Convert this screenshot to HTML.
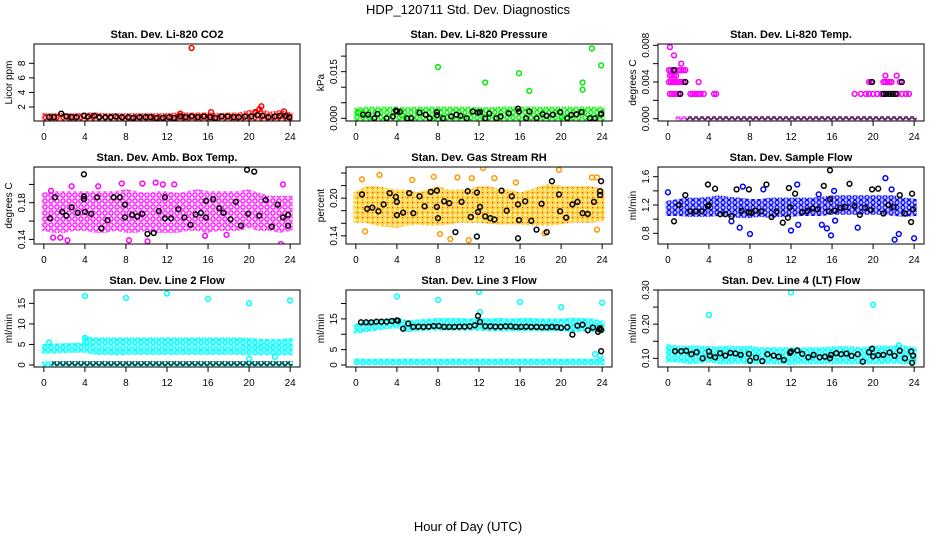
<!DOCTYPE html>
<html><head><meta charset="utf-8"><style>
html,body{margin:0;padding:0;background:#fff;}
svg{display:block;font-family:"Liberation Sans",Arial,sans-serif;}
</style></head><body>
<svg id="chart" width="936" height="540" viewBox="0 0 936 540" xmlns="http://www.w3.org/2000/svg">
<defs>
<pattern id="pat-red" width="6" height="5" patternUnits="userSpaceOnUse"><circle cx="3" cy="2.5" r="2" fill="none" stroke="#ff0000" stroke-width="1.2"/></pattern>
<pattern id="pat-green" width="6" height="5" patternUnits="userSpaceOnUse"><circle cx="3" cy="2.5" r="2" fill="none" stroke="#00ee00" stroke-width="1.2"/></pattern>
<pattern id="pat-magenta" width="6" height="6" patternUnits="userSpaceOnUse"><circle cx="3" cy="3" r="2.1" fill="none" stroke="#ff00ff" stroke-width="1.2"/></pattern>
<pattern id="pat-blue" width="6" height="5" patternUnits="userSpaceOnUse"><circle cx="3" cy="2.5" r="2" fill="none" stroke="#0000ff" stroke-width="1.2"/></pattern>
<pattern id="pat-cyan" width="6" height="5" patternUnits="userSpaceOnUse"><circle cx="3" cy="2.5" r="2" fill="none" stroke="#00ffff" stroke-width="1.3"/></pattern>
<pattern id="pat-black" width="6" height="6" patternUnits="userSpaceOnUse"><circle cx="3" cy="3" r="2.2" fill="none" stroke="#000" stroke-width="1.2"/></pattern>
<pattern id="pat-orange" width="5" height="5" patternUnits="userSpaceOnUse"><circle cx="2.5" cy="2.5" r="1.8" fill="none" stroke="#ffcc00" stroke-width="1.2"/><rect x="2" y="2" width="1.2" height="1.2" fill="#ff2000"/></pattern>
</defs>
<text x="468" y="14" text-anchor="middle" font-size="13">HDP_120711  Std. Dev. Diagnostics</text>
<text x="468" y="531" text-anchor="middle" font-size="13">Hour of Day (UTC)</text>
</svg>
<script>
// ---------- data ----------
const xTicks=[0,4,8,12,16,20,24];
const NA=NaN;
// CO2
const co2Lo=[0.3,0.3,0.3,0.3,0.3,0.3,0.3,0.3,0.3,0.3,0.3,0.3,0.3,0.3,0.3,0.3,0.3,0.3,0.3,0.3,0.3,0.3,0.3,0.3,0.3];
const co2Hi=[0.8,0.8,0.8,0.8,0.9,0.9,0.8,0.8,0.8,0.8,0.8,0.8,0.8,0.9,0.9,0.9,0.9,0.8,0.9,0.9,1.2,1.5,1.0,1.2,0.9];
const co2RedX=[14.4,21.2,21.0,16.3,23.4,13.3,20.6];
const co2RedY=[10.1,2.1,1.7,1.3,1.4,1.1,1.3];
const co2BlkX=[0.5,1,1.7,2.2,2.7,3.2,3.9,4.3,4.9,5.4,6,6.5,7,7.6,8.2,8.7,9.3,9.9,10.4,11,11.6,12.2,12.7,13.3,13.8,14.4,15,15.6,16.2,16.7,17.3,17.9,18.5,19,19.6,20.2,20.8,21.3,21.9,22.5,23,23.6,23.9];
const co2BlkY=[0.6,0.6,1.1,0.7,0.6,0.6,0.8,0.7,0.8,0.6,0.6,0.6,0.7,0.6,0.6,0.5,0.6,0.6,0.6,0.5,0.5,0.6,0.5,0.7,0.6,0.7,0.6,0.7,0.6,0.5,0.7,0.7,0.6,0.6,0.7,0.7,0.9,0.8,0.6,0.7,0.8,0.8,0.6];
const co2Ticks=[2,4,6,8];
// Pressure
const presLo=[0,0,0,0,0,0,0,0,0,0,0,0,0,0,0,0,0,0,0,0,0,0,0,0,0];
const presHi=[0.0025,0.003,0.003,0.003,0.003,0.0028,0.003,0.003,0.003,0.003,0.003,0.003,0.0028,0.0028,0.003,0.003,0.003,0.003,0.003,0.003,0.003,0.003,0.003,0.003,0.003];
const presGrnX=[8,12.6,15.9,16.9,22.1,22.1,23,23.9,0.3,4.5,20.1];
const presGrnY=[0.0165,0.0115,0.0145,0.0088,0.0115,0.0092,0.0225,0.0170,0.0018,0.001,0.0005];
const presBlkX=[0.7,1.2,2.1,3.6,3.9,4,4.3,5.4,6.2,6.8,7.9,7.9,9.3,9.8,10.2,11.4,11.9,12.1,13,14.1,14.9,15.8,15.9,16.9,18.2,18.6,19.2,19.9,21,21.5,22,23.9,23.9,1.8,3,5,7.2,8.5,10.8,12.6,13.7,16.6,17.6,20.6,22.8,23.3];
const presBlkY=[0.0012,0.0012,0.0014,0.0006,0.0025,0.0022,0.0021,0,0.0018,0.0012,0.002,0.001,0.0006,0.0012,0.0008,0.0022,0.0018,0.002,0.0015,0.0006,0.0016,0.0031,0.0022,0.0022,0.0013,0.0008,0.0012,0.002,0.0011,0.0013,0.002,0.0013,0.0015,0,0,0,0,0,0,0,0,0,0,0,0,0];
const presTicks=[0,0.005,0.010,0.015,0.020];
const presLabels=["0.000","","","0.015",""];
// Li-820 Temp
const tempLevels=[0.0027,0.004,0.0047,0.0053,0.006,0.0069,0.0078];
const tempLevelHours=[
 [0.2,0.4,0.6,0.8,1.0,1.2,2.2,2.4,2.6,2.8,3.0,3.2,3.5,4.5,4.7,18.2,18.8,19.3,19.6,20,20.4,20.8,21.2,21.6,22,22.4,22.8,23.2,23.5],
 [0.1,0.3,0.5,0.7,0.9,1.1,1.3,1.5,1.7,3.0,19.6,19.8,21,21.2,21.4,21.6,21.8,22.6],
 [0.2,0.4,0.6,0.8,21.2,22.3],
 [0.1,0.3,0.5,0.7,1.1,1.3,1.5,1.7],
 [1.3],[0.6],[0.2]];
const tempZeroLo=[NA,0,0,0,0,0,0,0,0,0,0,0,0,0,0,0,0,0,0,0,0,0,0,0,0];
const tempZeroHi=[NA,0,0,0,0,0,0,0,0,0,0,0,0,0,0,0,0,0,0,0,0,0,0,0,0];
const tempBlkZeroLo=[NA,NA,0,0,0,0,0,0,0,0,0,0,0,0,0,0,0,0,0,0,0,0,0,0,0];
const tempBlkZeroHi=[NA,NA,0,0,0,0,0,0,0,0,0,0,0,0,0,0,0,0,0,0,0,0,0,0,0];
const tempBlkX=[0.6,1.7,1.2,19.9,22.8,21,21.3,21.6,21.9,22.2];
const tempBlkY=[0.0053,0.004,0.0027,0.004,0.004,0.0027,0.0027,0.0027,0.0027,0.0027];
const tempTicks=[0,0.002,0.004,0.006,0.008];
const tempLabels=["0.000","","0.004","","0.008"];
// Amb box temp
const ambLo=[0.152,0.15,0.15,0.152,0.152,0.15,0.15,0.152,0.15,0.15,0.152,0.15,0.15,0.15,0.152,0.152,0.15,0.152,0.152,0.152,0.155,0.152,0.152,0.15,0.152];
const ambHi=[0.188,0.19,0.19,0.19,0.19,0.19,0.19,0.19,0.192,0.19,0.188,0.19,0.19,0.188,0.19,0.192,0.19,0.19,0.19,0.19,0.192,0.188,0.185,0.185,0.185];
const ambMagX=[0.7,2.7,5.3,7.6,9.6,10.9,11.6,12.7,23.3,0.9,1.6,2.3,8.3,10.1,23.1,15.7,17.8];
const ambMagY=[0.193,0.198,0.198,0.201,0.201,0.202,0.2,0.2,0.2,0.142,0.142,0.139,0.139,0.138,0.135,0.144,0.145];
const ambBlkX=[3.9,19.8,20.5,1.1,5.2,6.8,7.4,11.8,15.8,18.7,0.6,1.8,2.2,2.7,3.3,4,4.6,5.6,6.2,7.9,7.9,8.6,9.1,9.6,10.1,10.7,11.2,11.8,12.4,13.1,13.7,14.3,14.8,15.3,15.8,16.5,17.1,17.5,18.2,19.2,19.9,21,21.6,22.2,22.8,23.3,23.8,23.8,3.9,3.9];
const ambBlkY=[0.211,0.216,0.214,0.186,0.186,0.186,0.186,0.186,0.182,0.181,0.163,0.17,0.166,0.175,0.169,0.17,0.168,0.152,0.161,0.178,0.164,0.167,0.165,0.168,0.146,0.147,0.171,0.163,0.163,0.173,0.164,0.156,0.167,0.169,0.164,0.184,0.174,0.169,0.162,0.155,0.168,0.166,0.183,0.154,0.178,0.164,0.167,0.155,0.184,0.187];
const ambTicks=[0.14,0.16,0.18,0.20];
const ambLabels=["0.14","","0.18",""];
// RH
const rhLo=[0.165,0.165,0.16,0.158,0.157,0.16,0.162,0.16,0.16,0.162,0.165,0.165,0.165,0.163,0.162,0.162,0.162,0.16,0.16,0.16,0.162,0.165,0.165,0.165,0.168];
const rhHi=[0.205,0.215,0.215,0.212,0.21,0.21,0.205,0.21,0.215,0.21,0.21,0.21,0.215,0.215,0.21,0.21,0.205,0.21,0.215,0.22,0.215,0.215,0.215,0.215,0.21];
const rhOrX=[0.6,2.3,5.5,7.6,9.9,11.3,12.4,13.5,15.6,19.8,23,23.5,0.9,8.2,9.2,11,18.4,23.5];
const rhOrY=[0.23,0.237,0.229,0.234,0.233,0.232,0.248,0.232,0.225,0.245,0.233,0.233,0.147,0.143,0.135,0.133,0.144,0.15];
const rhBlkX=[0.6,1.1,1.6,2.2,2.7,3.3,3.9,4,4,4.6,5.2,5.6,6.2,6.7,7.3,7.9,7.9,8,8.6,9.1,9.7,10.3,10.9,11.2,11.8,11.9,12.1,12.6,13.1,13.5,14.2,14.7,15.2,15.8,15.9,16.5,17.1,17.6,18.1,18.6,19.1,19.8,19.9,20.5,21.1,21.6,22.1,22.6,23.2,23.8,23.8,23.9,15.8,11.8];
const rhBlkY=[0.206,0.183,0.185,0.179,0.19,0.208,0.202,0.194,0.173,0.177,0.208,0.176,0.203,0.187,0.21,0.212,0.186,0.168,0.195,0.192,0.146,0.194,0.211,0.17,0.209,0.178,0.186,0.171,0.168,0.166,0.212,0.18,0.203,0.19,0.165,0.195,0.164,0.15,0.191,0.146,0.227,0.206,0.179,0.169,0.19,0.194,0.176,0.175,0.194,0.205,0.211,0.227,0.136,0.139];
const rhTicks=[0.14,0.16,0.18,0.20,0.22,0.24];
const rhLabels=["0.14","","","0.20","",""];
// Sample flow
const sfLo=[1.08,1.08,1.07,1.07,1.07,1.08,1.07,1.05,1.05,1.07,1.05,1.07,1.07,1.08,1.08,1.08,1.1,1.1,1.1,1.1,1.1,1.1,1.08,1.07,1.08];
const sfHi=[1.22,1.25,1.27,1.27,1.28,1.3,1.28,1.27,1.25,1.25,1.27,1.27,1.27,1.27,1.27,1.28,1.3,1.3,1.3,1.3,1.3,1.3,1.3,1.27,1.25];
const sfBluX=[0,7.3,9.3,12.6,14.7,16.2,21.2,21.8,7,8,12,12.7,15,15.5,15.9,18.5,22.1,22.5,24,6.2,16.3];
const sfBluY=[1.38,1.46,1.42,1.49,1.35,1.4,1.58,1.42,0.88,0.79,0.84,0.92,0.92,0.87,0.77,0.88,0.71,0.79,0.73,0.97,0.98];
const sfBlkX=[0.6,1.1,1.7,2.2,2.7,3.3,3.9,3.9,4,4.6,5.1,5.6,6.2,6.7,7.2,7.9,7.9,8.1,8.5,9.1,9.6,10.1,10.6,11.2,11.7,11.8,11.9,12.4,13.1,13.6,14.1,14.6,15.2,15.7,15.8,16.3,16.8,17.3,17.7,18.2,18.7,19.2,19.8,19.9,20.5,21,21.5,22,22.6,23.1,23.7,23.8,23.9,15.8];
const sfBlkY=[0.97,1.2,1.34,1.11,1.11,1.11,1.18,1.49,1.2,1.43,1.07,1.07,1.04,1.42,1.12,1.1,1.42,1.09,1.12,1.11,1.49,1.03,1.11,0.95,1.02,1.44,1.17,1.36,1.1,1.12,1.15,1.14,1.47,1.11,1.28,1.12,1.16,1.17,1.5,1.19,1.06,1.16,1.13,1.42,1.43,1.08,1.2,1.17,1.34,1.08,0.96,1.36,1.14,1.69];
const sfTicks=[0.8,1.0,1.2,1.4,1.6];
const sfLabels=["0.8","","1.2","","1.6"];
// Line 2
const l2ALo=[3.3,3.4,3.5,3.6,3.6,3.1,3.1,3.0,3.1,3.1,3.1,3.1,3.1,3.1,3.1,3.1,3.1,3.1,3.1,3.1,3.0,3.0,3.0,3.0,3.0];
const l2AHi=[4.5,4.6,4.7,4.8,4.9,4.0,4.0,4.0,4.0,4.0,4.0,4.0,4.1,4.0,4.0,4.0,4.0,4.0,4.0,4.0,4.0,4.0,4.0,3.9,3.8];
const l2BLo=[NA,NA,NA,NA,5.2,5.3,5.3,5.3,5.3,5.3,5.3,5.3,5.3,5.3,5.3,5.3,5.3,5.3,5.3,5.3,5.0,4.9,4.9,4.9,4.9];
const l2BHi=[NA,NA,NA,NA,6.4,6.1,6.1,6.1,6.1,6.1,6.1,6.1,6.1,6.1,6.1,6.1,6.1,6.1,6.1,6.1,6.0,5.8,5.7,5.7,6.0];
const l2RowLo=[0.3,0.3,0.3,0.3,0.3,0.3,0.3,0.3,0.3,0.3,0.3,0.3,0.3,0.3,0.3,0.3,0.3,0.3,0.3,0.3,0.3,0.3,0.3,0.3,0.3];
const l2RowHi=[0.3,0.3,0.3,0.3,0.3,0.3,0.3,0.3,0.3,0.3,0.3,0.3,0.3,0.3,0.3,0.3,0.3,0.3,0.3,0.3,0.3,0.3,0.3,0.3,0.3];
const l2BlkLo=[NA,0.3,0.3,0.3,0.3,0.3,0.3,0.3,0.3,0.3,0.3,0.3,0.3,0.3,0.3,0.3,0.3,0.3,0.3,0.3,0.3,0.3,0.3,0.3,0.3];
const l2BlkHi=[NA,0.3,0.3,0.3,0.3,0.3,0.3,0.3,0.3,0.3,0.3,0.3,0.3,0.3,0.3,0.3,0.3,0.3,0.3,0.3,0.3,0.3,0.3,0.3,0.3];
const l2CyX=[4,8,12,16,20,24,0.5,20,22.5,4];
const l2CyY=[16.8,16.3,17.4,16.1,15,15.7,5.5,1.5,2,6.6];
const l2Ticks=[0,5,10,15];
const l2Labels=["0","5","10","15"];
// Line 3
const l3Lo=[11,11.5,12,12.5,12.8,11.5,11.8,12,12,12,12,12,12,11.8,11.8,11.8,11.8,11.8,11.8,11.8,11.8,11.5,11.8,11.5,11.5];
const l3Hi=[12.5,13.5,14,14.3,14.5,13.8,14,14.2,14.5,14.5,14.5,14.3,14.5,14.3,14.5,14.3,14.5,14.5,14.3,14.3,14.3,14.5,14.5,14.3,13.5];
const l3RowLo=[0.8,0.8,0.8,0.8,0.8,0.8,0.8,0.8,0.8,0.8,0.8,0.8,0.8,0.8,0.8,0.8,0.8,0.8,0.8,0.8,0.8,0.8,0.8,0.8,0.8];
const l3RowHi=[1.2,1.2,1.2,1.2,1.2,1.2,1.2,1.2,1.2,1.2,1.2,1.2,1.2,1.2,1.2,1.2,1.2,1.2,1.2,1.2,1.2,1.2,1.2,1.2,1.2];
const l3CyX=[4,8,12,16,20,24,12.1,23.3,23.8];
const l3CyY=[22.3,21.2,23.8,20.5,18.8,20.3,17.2,3.5,3];
const l3BlkX=[0.5,1,1.5,2,2.5,3,3.5,4,4.1,4.6,5.1,5.6,6.1,6.6,7.1,7.6,8.1,8.6,9.1,9.6,10.1,10.6,11.1,11.6,11.9,12.1,12.6,13.1,13.6,14.1,14.6,15.1,15.6,16.1,16.6,17.1,17.6,18.1,18.6,19.1,19.6,20,20.6,21.1,21.6,22.1,22.6,23.1,23.6,23.7,23.8,23.9,23.9];
const l3BlkY=[13.9,13.9,13.9,14.1,14.1,14.1,14.3,14.5,14.4,11.8,13.5,12.4,12.5,12.4,12.5,12.7,12.7,12.4,12.4,12.4,12.5,12.5,12.6,12.9,16,14,12.6,12.6,12.5,12.5,12.6,12.6,12.4,12.4,12.5,12.4,12.4,12.3,12.3,12.4,12.3,12.1,12.3,9.9,12.8,13.1,11.3,12.2,10.8,11.6,12,11.4,4.5];
const l3Ticks=[0,5,10,15,20];
const l3Labels=["0","5","","15",""];
// Line 4
const l4Lo=[0.095,0.095,0.09,0.092,0.095,0.09,0.09,0.092,0.09,0.09,0.09,0.09,0.088,0.09,0.09,0.09,0.09,0.09,0.09,0.09,0.09,0.09,0.092,0.09,0.092];
const l4Hi=[0.135,0.13,0.13,0.13,0.128,0.128,0.13,0.128,0.13,0.125,0.125,0.125,0.125,0.125,0.125,0.125,0.128,0.128,0.128,0.125,0.13,0.13,0.13,0.13,0.125];
const l4CyX=[4,12,20,22.5];
const l4CyY=[0.227,0.293,0.257,0.138];
const l4BlkX=[0.7,1.3,1.8,2.3,2.8,3.4,4,4.1,4.6,5.1,5.6,6.1,6.6,7.1,7.9,8,8.6,9.2,9.7,10.3,10.8,11.3,11.9,12,12.6,13.1,13.7,14.2,14.8,15.3,15.8,15.9,16.4,16.9,17.4,17.9,18.5,19,19.6,19.9,20,20.5,21,21.6,22.1,22.6,23.1,23.7,23.8,23.9];
const l4BlkY=[0.121,0.121,0.122,0.112,0.118,0.1,0.12,0.108,0.103,0.115,0.108,0.116,0.114,0.11,0.113,0.093,0.102,0.092,0.112,0.108,0.105,0.095,0.116,0.12,0.123,0.113,0.103,0.11,0.103,0.105,0.1,0.11,0.115,0.112,0.114,0.107,0.112,0.09,0.118,0.128,0.106,0.109,0.11,0.117,0.107,0.122,0.1,0.12,0.087,0.108];
const l4Ticks=[0.10,0.15,0.20,0.25,0.30];
const l4Labels=["0.10","","0.20","","0.30"];

// ---------- layout ----------
const svg=document.getElementById('chart');
const NS='http://www.w3.org/2000/svg';
const colLeft=[34,346,658], rowTop=[44,167,290], PW=266, PH=77;
function mk(tag,attrs,parent){const e=document.createElementNS(NS,tag);for(const k in attrs)e.setAttribute(k,attrs[k]);(parent||svg).appendChild(e);return e;}

function levelPts(levels,hours){const xs=[],ys=[];levels.forEach((lv,i)=>hours[i].forEach(h=>{xs.push(h);ys.push(lv);}));return [xs,ys];}
const tempMag=levelPts(tempLevels,tempLevelHours);

const panels=[
 {name:'co2',title:'Stan. Dev. Li-820 CO2',ylab:'Licor ppm',c:0,r:0,y0:0.08,y1:10.65,ticks:co2Ticks,labels:co2Ticks.map(String),
  layers:[{t:'band',lo:co2Lo,hi:co2Hi,col:'#ff0000',pat:'pat-red',op:0.2},{t:'pts',x:co2RedX,y:co2RedY,col:'#ff0000'},{t:'pts',x:co2BlkX,y:co2BlkY,col:'#000'}]},
 {name:'pressure',title:'Stan. Dev. Li-820 Pressure',ylab:'kPa',c:1,r:0,y0:-0.00087,y1:0.0239,ticks:presTicks,labels:presLabels,
  layers:[{t:'band',lo:presLo,hi:presHi,col:'#00ee00',pat:'pat-green',op:0.2},{t:'pts',x:presGrnX,y:presGrnY,col:'#00ee00'},{t:'pts',x:presBlkX,y:presBlkY,col:'#000'}]},
 {name:'li820-temp',title:'Stan. Dev. Li-820 Temp.',ylab:'degrees C',c:2,r:0,y0:-0.00025,y1:0.00814,ticks:tempTicks,labels:tempLabels,
  layers:[{t:'band',lo:tempZeroLo,hi:tempZeroHi,col:'#ff00ff',pat:'pat-magenta',op:0.2},{t:'pts',x:tempMag[0],y:tempMag[1],col:'#ff00ff'},{t:'band',lo:tempBlkZeroLo,hi:tempBlkZeroHi,col:'#000',pat:'pat-black',op:0},{t:'pts',x:tempBlkX,y:tempBlkY,col:'#000'}]},
 {name:'amb-box-temp',title:'Stan. Dev. Amb. Box Temp.',ylab:'degrees C',c:0,r:1,y0:0.135,y1:0.219,ticks:ambTicks,labels:ambLabels,
  layers:[{t:'band',lo:ambLo,hi:ambHi,col:'#ff00ff',pat:'pat-magenta',op:0.12},{t:'pts',x:ambMagX,y:ambMagY,col:'#ff00ff'},{t:'pts',x:ambBlkX,y:ambBlkY,col:'#000'}]},
 {name:'gas-stream-rh',title:'Stan. Dev. Gas Stream RH',ylab:'percent',c:1,r:1,y0:0.127,y1:0.2496,ticks:rhTicks,labels:rhLabels,
  layers:[{t:'band',lo:rhLo,hi:rhHi,col:'#ffaa00',pat:'pat-orange',op:0.15},{t:'pts',x:rhOrX,y:rhOrY,col:'#ff9900'},{t:'pts',x:rhBlkX,y:rhBlkY,col:'#000'}]},
 {name:'sample-flow',title:'Stan. Dev. Sample Flow',ylab:'ml/min',c:2,r:1,y0:0.649,y1:1.737,ticks:sfTicks,labels:sfLabels,
  layers:[{t:'band',lo:sfLo,hi:sfHi,col:'#0000ff',pat:'pat-blue',op:0.2},{t:'pts',x:sfBluX,y:sfBluY,col:'#0000ff'},{t:'pts',x:sfBlkX,y:sfBlkY,col:'#000'}]},
 {name:'line2-flow',title:'Stan. Dev. Line 2 Flow',ylab:'ml/min',c:0,r:2,y0:-0.49,y1:18.25,ticks:l2Ticks,labels:l2Labels,
  layers:[{t:'band',lo:l2ALo,hi:l2AHi,col:'#00ffff',pat:'pat-cyan',op:0.35},{t:'band',lo:l2BLo,hi:l2BHi,col:'#00ffff',pat:'pat-cyan',op:0.35},{t:'band',lo:l2RowLo,hi:l2RowHi,col:'#00ffff',pat:'pat-cyan',op:0.3},{t:'pts',x:l2CyX,y:l2CyY,col:'#00ffff'},{t:'band',lo:l2BlkLo,hi:l2BlkHi,col:'#000',pat:'pat-black',op:0}]},
 {name:'line3-flow',title:'Stan. Dev. Line 3 Flow',ylab:'ml/min',c:1,r:2,y0:-0.65,y1:24.4,ticks:l3Ticks,labels:l3Labels,
  layers:[{t:'band',lo:l3Lo,hi:l3Hi,col:'#00ffff',pat:'pat-cyan',op:0.35},{t:'band',lo:l3RowLo,hi:l3RowHi,col:'#00ffff',pat:'pat-cyan',op:0.45},{t:'pts',x:l3CyX,y:l3CyY,col:'#00ffff'},{t:'pts',x:l3BlkX,y:l3BlkY,col:'#000'}]},
 {name:'line4-flow',title:'Stan. Dev. Line 4 (LT) Flow',ylab:'ml/min',c:2,r:2,y0:0.0746,y1:0.30,ticks:l4Ticks,labels:l4Labels,
  layers:[{t:'band',lo:l4Lo,hi:l4Hi,col:'#00ffff',pat:'pat-cyan',op:0.35},{t:'pts',x:l4CyX,y:l4CyY,col:'#00ffff'},{t:'pts',x:l4BlkX,y:l4BlkY,col:'#000'}]}
];

panels.forEach(p=>{
  const L=colLeft[p.c], T=rowTop[p.r], B=T+PH, R=L+PW;
  const sx=v=>L+(v+0.96)/25.92*PW;
  const sy=v=>B-(v-p.y0)/(p.y1-p.y0)*PH;
  const g=mk('g',{});
  
  
  const clipId='clip-'+p.name;
  const cp=mk('clipPath',{id:clipId},g); mk('rect',{x:L,y:T,width:PW,height:PH},cp);
  const plot=mk('g',{'clip-path':'url(#'+clipId+')'},g);
  
  
  p.layers.forEach(ly=>{
    if(ly.t==='band'){
      let seg=[];const segs=[];
      for(let h=0;h<ly.lo.length;h++){ if(isNaN(ly.lo[h])){if(seg.length)segs.push(seg);seg=[];} else seg.push(h);}
      if(seg.length)segs.push(seg);
      segs.forEach(s=>{
        const top=s.map(h=>[sx(h),Math.min(sy(ly.hi[h]),sy(ly.lo[h]))-2.5]);
        const bot=s.slice().reverse().map(h=>[sx(h),sy(ly.lo[h])+2.5]);
        top[0][0]-=2.5; bot[bot.length-1][0]-=2.5; top[top.length-1][0]+=2.5; bot[0][0]+=2.5;
        const d='M'+top.concat(bot).map(q=>q[0].toFixed(1)+','+q[1].toFixed(1)).join('L')+'Z';
        if(ly.op>0){
          const b1=mk('path',{d:d,fill:ly.col,'fill-opacity':ly.op},plot);
          
          
        }
        const b2=mk('path',{d:d,fill:'url(#'+ly.pat+')'},plot);
        
        
      });
    } else {
      const n=Math.min(ly.x.length,ly.y.length);
      for(let i=0;i<n;i++){
        const c=mk('circle',{cx:sx(ly.x[i]).toFixed(1),cy:sy(ly.y[i]).toFixed(1),r:2.4,fill:'none',stroke:ly.col,'stroke-width':1.5},plot);
        
        
      }
    }
  });
  const box=mk('rect',{x:L,y:T,width:PW,height:PH,fill:'none',stroke:'#000','stroke-width':1},g);
  
  
  const tt=mk('text',{x:L+PW/2,y:T-6,'text-anchor':'middle','font-size':11,'font-weight':'bold'},g);
  tt.textContent=p.title;
  
  
  const xa=mk('g',{},g);
  
  
  mk('line',{x1:sx(xTicks[0]),x2:sx(xTicks[xTicks.length-1]),y1:B,y2:B,stroke:'#000'},xa);
  xTicks.forEach(v=>{
    mk('line',{x1:sx(v),x2:sx(v),y1:B,y2:B+5,stroke:'#000'},xa);
    const t=mk('text',{x:sx(v),y:B+19,'text-anchor':'middle','font-size':10},xa);
    t.textContent=String(v);
    
    
  });
  const ya=mk('g',{},g);
  
  
  mk('line',{x1:L,x2:L,y1:sy(p.ticks[0]),y2:sy(p.ticks[p.ticks.length-1]),stroke:'#000'},ya);
  p.ticks.forEach((v,i)=>{
    mk('line',{x1:L-5,x2:L,y1:sy(v),y2:sy(v),stroke:'#000'},ya);
    if(p.labels[i]){
      const yy=sy(v);
      const t=mk('text',{x:L-9,y:yy,'text-anchor':'middle','font-size':10,transform:'rotate(-90 '+(L-9)+' '+yy+')'},ya);
      t.textContent=p.labels[i];
      
      
    }
  });
  const yl=mk('text',{x:L-22,y:T+PH/2,'text-anchor':'middle','font-size':10,transform:'rotate(-90 '+(L-22)+' '+(T+PH/2)+')'},g);
  yl.textContent=p.ylab;
  
  
});
</script>
</body></html>
